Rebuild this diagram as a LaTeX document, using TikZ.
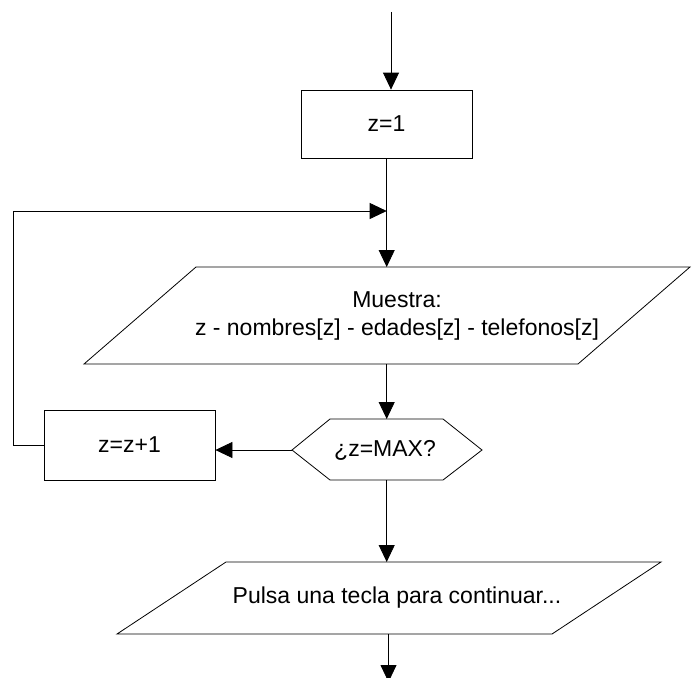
\documentclass[tikz,border=0pt]{standalone}
\usepackage{fontspec}
\setmainfont{Liberation Sans}
\usetikzlibrary{arrows.meta}
\begin{document}
\begin{tikzpicture}[x=1pt,y=-1pt,
  line width=0.8pt,
  flow/.style={-{Triangle[width=16pt,length=17pt]}},
  txt/.style={font=\fontsize{23}{28}\selectfont},
  procbox/.style={draw, txt, minimum width=171pt, inner sep=0pt},
  lbl/.style={txt, align=center, inner sep=0pt}]
\useasboundingbox (0,0) rectangle (692,677);

% entry point
\coordinate (start) at (391,12);

% z=1
\node[procbox, minimum height=68pt] (init) at (386.5,124) {z=1};

% merge point of the loop
\coordinate (merge) at (386.7,211);

% output parallelogram: show record
\coordinate (s1) at (196,267);
\coordinate (s2) at (690,267);
\coordinate (s3) at (578,364);
\coordinate (s4) at (84,364);
\draw (s1) -- (s2) -- (s3) -- (s4) -- cycle;
\coordinate (showin) at (386.7,267);
\coordinate (showout) at (386.7,364);
\node[lbl] (show) at (397,316) {Muestra:\\z - nombres[z] - edades[z] - telefonos[z]};

% decision hexagon
\coordinate (h1) at (292,450);
\coordinate (h2) at (330,419);
\coordinate (h3) at (443,419);
\coordinate (h4) at (482,450);
\coordinate (h5) at (443,480);
\coordinate (h6) at (330,480);
\draw (h1) -- (h2) -- (h3) -- (h4) -- (h5) -- (h6) -- cycle;
\coordinate (askin) at (386.7,419);
\coordinate (askout) at (386.7,480);
\node[lbl] (ask) at (385,450) {¿z=MAX?};

% increment
\node[procbox, minimum height=70pt] (inc) at (129.5,445) {z=z+1};
\coordinate (back) at (13,445);

% final prompt parallelogram
\coordinate (p1) at (226,562);
\coordinate (p2) at (661,562);
\coordinate (p3) at (552,634);
\coordinate (p4) at (117,634);
\draw (p1) -- (p2) -- (p3) -- (p4) -- cycle;
\coordinate (pausein) at (386.7,562);
\coordinate (pauseout) at (388.5,634);
\node[lbl] (pause) at (397,598) {Pulsa una tecla para continuar...};
\coordinate (finish) at (388.5,682);

% connectors
\draw[flow] (start) -- (start |- init.north);
\draw (init.south -| merge) -- (merge);
\draw[flow] (merge) -- (showin);
\draw[flow] (showout) -- (askin);
\draw[flow] (h1) -- (inc.east |- h1);
\draw[flow] (inc.west) -- (back) |- (merge);
\draw[flow] (askout) -- (pausein);
\draw[flow] (pauseout) -- (finish);
\end{tikzpicture}
\end{document}
